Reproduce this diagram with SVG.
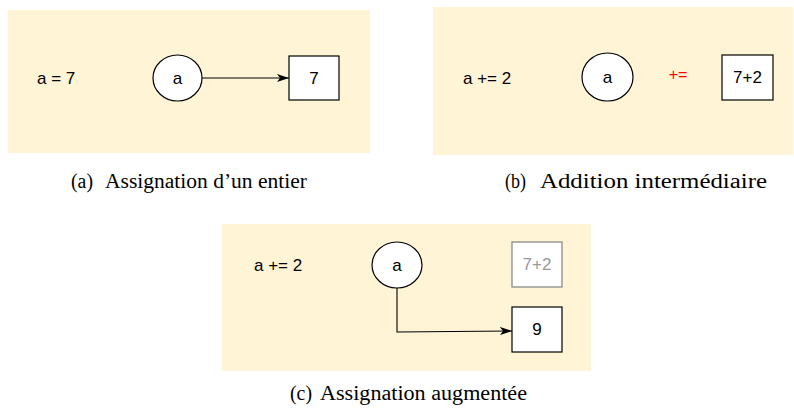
<svg xmlns="http://www.w3.org/2000/svg" width="794" height="412" viewBox="0 0 794 412">
<defs>
<style>
.bg{fill:#fff4d6;}
.node{fill:#ffffff;stroke:#000;stroke-width:1.2;}
.gray{fill:#ffffff;stroke:#808080;stroke-width:1.2;}
.t{font-family:"Liberation Sans",Arial,sans-serif;font-size:17px;fill:#000;}
.cap{font-family:"Liberation Serif","Times New Roman",serif;font-size:20px;fill:#000;}
.edge{fill:none;stroke:#000;stroke-width:1.1;}
</style>
<marker id="arr" viewBox="0 0 12 10" refX="12" refY="5" markerWidth="12" markerHeight="10" markerUnits="userSpaceOnUse" orient="auto">
<path d="M0,1 L12,5 L0,9 L3,5 Z" fill="#000"/>
</marker>
</defs>
<rect width="794" height="412" fill="#fff"/>

<!-- Panel (a) -->
<g id="panel-a">
<rect class="bg" x="8" y="10" width="362" height="143"/>
<text class="t" x="37" y="84">a = 7</text>
<text class="cap" x="71" y="188" textLength="22" lengthAdjust="spacingAndGlyphs">(a)</text>
<text class="cap" x="105" y="188" textLength="202" lengthAdjust="spacingAndGlyphs">Assignation d’un entier</text>
</g>
<g id="a-var"><ellipse class="node" cx="177.5" cy="78" rx="24.5" ry="23"/><text class="t" x="177.5" y="84" text-anchor="middle">a</text></g>
<g id="a-val"><rect class="node" x="289" y="56" width="50" height="44"/><text class="t" x="314" y="84" text-anchor="middle">7</text></g>

<!-- Panel (b) -->
<g id="panel-b">
<rect class="bg" x="433" y="7" width="360" height="148"/>
<text class="t" x="463" y="84">a += 2</text>
<text x="678" y="80" text-anchor="middle" style="font-family:'Liberation Sans',Arial,sans-serif;font-size:16px;fill:#ff0000;">+=</text>
<text class="cap" x="505" y="188" textLength="21" lengthAdjust="spacingAndGlyphs">(b)</text>
<text class="cap" x="540" y="188" textLength="227" lengthAdjust="spacingAndGlyphs">Addition intermédiaire</text>
</g>
<g id="b-var"><ellipse class="node" cx="607.5" cy="77" rx="25.5" ry="24"/><text class="t" x="607.5" y="83" text-anchor="middle">a</text></g>
<g id="b-val"><rect class="node" x="722" y="55" width="51" height="45"/><text class="t" x="747.5" y="83" text-anchor="middle">7+2</text></g>

<!-- Panel (c) -->
<g id="panel-c">
<rect class="bg" x="222" y="224" width="369" height="147"/>
<text class="t" x="254" y="271">a += 2</text>
<text class="cap" x="290" y="400" textLength="22" lengthAdjust="spacingAndGlyphs">(c)</text>
<text class="cap" x="320" y="400" textLength="207" lengthAdjust="spacingAndGlyphs">Assignation augmentée</text>
</g>
<g id="c-var"><ellipse class="node" cx="397" cy="265" rx="25" ry="23"/><text class="t" x="397" y="271" text-anchor="middle">a</text></g>
<g id="c-old"><rect class="gray" x="512" y="242" width="50" height="45"/><text class="t" x="537" y="270" text-anchor="middle" style="fill:#999999">7+2</text></g>
<g id="c-new"><rect class="node" x="512" y="307" width="50" height="45"/><text class="t" x="537" y="335" text-anchor="middle">9</text></g>

<g id="connectors">
<path class="edge" d="M202,78 L289,78" marker-end="url(#arr)"/>
<path class="edge" d="M397,288 L397,332 L512,331" marker-end="url(#arr)"/>
</g>
</svg>
